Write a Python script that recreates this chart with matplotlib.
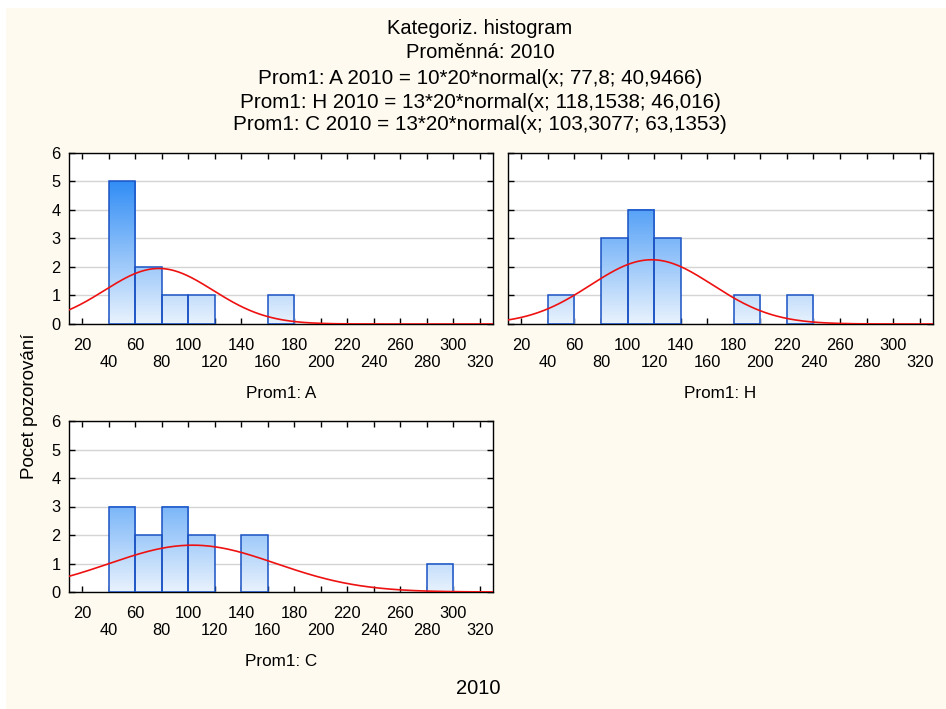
import numpy as np
import matplotlib
matplotlib.use("Agg")
import matplotlib.pyplot as plt
from matplotlib.colors import LinearSegmentedColormap

plt.rcParams['font.family'] = ['Liberation Sans', 'DejaVu Sans']

# data
bin_left = [40, 60, 80, 100, 120, 140, 160, 180, 200, 220, 240, 260, 280]
counts_A = [5, 2, 1, 1, 0, 0, 1, 0, 0, 0, 0, 0, 0]
counts_H = [1, 0, 3, 4, 3, 0, 0, 1, 0, 1, 0, 0, 0]
counts_C = [3, 2, 3, 2, 0, 2, 0, 0, 0, 0, 0, 0, 1]
groups = ["A", "H", "C"]
n_obs = [10, 13, 13]
means = [77.8, 118.1538, 103.3077]
sds = [40.9466, 46.016, 63.1353]
bin_w = 20
xticks = list(range(20, 340, 20))

title_lines = ["Kategoriz. histogram", "Proměnná: 2010",
               "Prom1: A 2010 = 10*20*normal(x; 77,8; 40,9466)",
               "Prom1: H 2010 = 13*20*normal(x; 118,1538; 46,016)",
               "Prom1: C 2010 = 13*20*normal(x; 103,3077; 63,1353)"]

cream = "#fefaef"
cmap = LinearSegmentedColormap.from_list("bl", ["#e8f2fd", "#2b8af5"])

fig = plt.figure(figsize=(9.46, 7.09), dpi=100)
fig.patch.set_facecolor("white")
fig.add_artist(plt.Rectangle((6/946, 0), 1, 1 - 8/709, transform=fig.transFigure,
                             facecolor=cream, edgecolor="none", zorder=-10))

positions = [[69/946, 1-324/709, 424/946, 171/709],
             [508/946, 1-324/709, 425/946, 171/709],
             [69/946, 1-592/709, 424/946, 171/709]]
all_counts = [counts_A, counts_H, counts_C]

for i, g in enumerate(groups):
    ax = fig.add_axes(positions[i])
    ax.set_facecolor("white")
    for x0, c in zip(bin_left, all_counts[i]):
        if c == 0:
            continue
        grad = np.linspace(c, 0, 100).reshape(-1, 1)
        ax.imshow(grad, extent=(x0, x0 + bin_w, 0, c), aspect="auto", cmap=cmap,
                  vmin=0, vmax=5.2, zorder=2, interpolation="bilinear")
        ax.bar(x0, c, width=bin_w, align="edge", facecolor="none",
               edgecolor="#1a52c4", linewidth=1.1, zorder=3)
    xs = np.linspace(10, 330, 400)
    ys = n_obs[i] * bin_w * np.exp(-0.5 * ((xs - means[i]) / sds[i])**2) / (sds[i] * np.sqrt(2*np.pi))
    ax.plot(xs, ys, color="#ee1111", lw=1.2, zorder=4)
    ax.set_xlim(10, 330)
    ax.set_ylim(0, 6)
    ax.set_yticks(range(0, 7))
    ax.grid(axis="y", color="#d4d4d4", lw=1, zorder=0)
    ax.set_axisbelow(True)
    ax.set_xticks(xticks)
    ax.set_xticklabels([str(t) if k % 2 == 0 else "\n" + str(t) for k, t in enumerate(xticks)])
    ax.tick_params(direction="in", top=True, right=True, length=4, labelsize=11.8,
                   width=1)
    ax.tick_params(axis="x", pad=10)
    ax.tick_params(axis="y", pad=6)
    if i == 1:
        ax.set_yticklabels([])
    for s in ax.spines.values():
        s.set_linewidth(1)
    ax.set_xlabel("Prom1: " + g, fontsize=12.3, labelpad=11)

fig.text(30/946, 1-406/709, "Pocet pozorování", rotation=90, fontsize=13.5,
         ha="center", va="center")
fig.text(478/946, 1-688/709, "2010", fontsize=14.5, ha="center", va="center")

ys_t = [29, 52, 79, 102, 125]
sizes_t = [14.5, 14.5, 14.9, 14.9, 14.9]
for t, yy, fs in zip(title_lines, ys_t, sizes_t):
    fig.text(480/946, 1-yy/709, t, fontsize=fs, ha="center", va="center")

fig.savefig("out.png", dpi=100, facecolor=fig.get_facecolor())
